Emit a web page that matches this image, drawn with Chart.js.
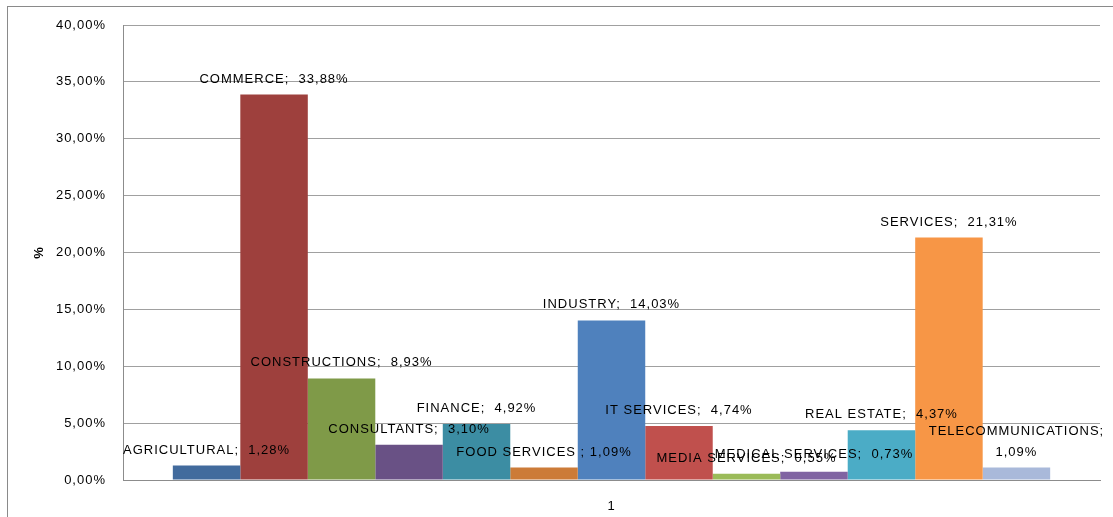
<!DOCTYPE html>
<html>
<head>
<meta charset="utf-8">
<script src="https://cdn.jsdelivr.net/npm/chart.js@4/dist/chart.umd.min.js"></script>
<style>
    html, body { margin: 0; padding: 0; background: #fff; overflow: hidden; }
    #frame {
        position: absolute; left: 7px; top: 6px; width: 1200px; height: 600px;
        border-left: 1px solid #8a8a8a; border-top: 1px solid #8a8a8a;
    }
    #wrap { position: absolute; left: 0; top: 0; width: 1113px; height: 517px; }
</style>
</head>
<body>
<div id="frame"></div>
<div id="wrap"><canvas id="sectors-chart" width="1113" height="517"></canvas></div>
<script>
// Chart data
const categories = ['1'];
const sectors = ['AGRICULTURAL', 'COMMERCE', 'CONSTRUCTIONS', 'CONSULTANTS', 'FINANCE', 'FOOD SERVICES ',
    'INDUSTRY', 'IT SERVICES', 'MEDIA SERVICES', 'MEDICAL SERVICES', 'REAL ESTATE', 'SERVICES', 'TELECOMMUNICATIONS'];
const shares = [1.28, 33.88, 8.93, 3.10, 4.92, 1.09, 14.03, 4.74, 0.55, 0.73, 4.37, 21.31, 1.09];
const yTicks = [0, 5, 10, 15, 20, 25, 30, 35, 40];

const colors = ['#426B9D', '#9E403D', '#7F9A48', '#695185', '#3C8DA3', '#CC7B38',
    '#4F81BD', '#C0504D', '#9BBB59', '#8064A2', '#4BACC6', '#F79646', '#A9B9DA'];

const FONT = 'Liberation Sans';

// Format a value like Excel (comma decimal)
function formatPercent(v) {
    return v.toFixed(2).replace('.', ',') + '%';
}

// Calibri-ish spacing
const spacingPlugin = {
    id: 'spacing',
    beforeInit(chart) { chart.ctx.letterSpacing = '1px'; },
    beforeLayout(chart) { chart.ctx.letterSpacing = '1px'; },
    beforeDraw(chart) { chart.ctx.letterSpacing = '1px'; }
};

// Data labels "NAME;  value%" above each bar
const labelNudge = { 'MEDICAL SERVICES': { dx: 0, dy: -2 } };
const barLabels = {
    id: 'barLabels',
    afterDatasetsDraw(chart) {
        const ctx = chart.ctx;
        ctx.save();
        ctx.letterSpacing = '1px';
        ctx.font = '13px "' + FONT + '"';
        ctx.fillStyle = '#000';
        ctx.textAlign = 'center';
        ctx.textBaseline = 'middle';
        chart.data.datasets.forEach((ds, i) => {
            const bar = chart.getDatasetMeta(i).data[0];
            const nudge = labelNudge[ds.label] || { dx: 0, dy: 0 };
            const x = bar.x + nudge.dx;
            const y = bar.y - 15.5 + nudge.dy;
            const sep = ds.label.endsWith(' ') ? '; ' : ';  ';
            const text = ds.label + sep + formatPercent(ds.data[0]);
            const w = ctx.measureText(text).width;
            if (x + w / 2 > chart.width) {
                ctx.fillText(ds.label + ';', x, y - 21);
                ctx.fillText(formatPercent(ds.data[0]), x, y);
            } else {
                ctx.fillText(text, x, y);
            }
        });
        ctx.restore();
    }
};

const ctx = document.getElementById('sectors-chart').getContext('2d');
new Chart(ctx, {
    type: 'bar',
    data: {
        labels: categories,
        datasets: sectors.map((name, i) => ({
            label: name,
            data: [shares[i]],
            backgroundColor: colors[i],
            borderWidth: 0
        }))
    },
    options: {
        responsive: false,
        animation: false,
        devicePixelRatio: 1,
        barPercentage: 1,
        categoryPercentage: 0.898,
        layout: { padding: { left: 28, top: 25, right: 13, bottom: 0 } },
        plugins: {
            legend: { display: false },
            tooltip: { enabled: false }
        },
        scales: {
            x: {
                grid: { display: false, drawTicks: false },
                border: { display: true, color: '#8c8c8c' },
                ticks: { color: '#000', padding: 19, font: { family: FONT, size: 13 } },
                afterFit(scale) { scale.height = 37; }
            },
            y: {
                min: 0,
                max: 40,
                afterBuildTicks(scale) { scale.ticks = yTicks.map(v => ({ value: v })); },
                ticks: {
                    color: '#000',
                    padding: 17,
                    font: { family: FONT, size: 13 },
                    callback: v => formatPercent(v)
                },
                grid: { color: '#a0a0a0', lineWidth: 1, drawTicks: false },
                border: { display: true, color: '#8c8c8c' },
                title: {
                    display: true,
                    text: '%',
                    color: '#000',
                    font: { family: FONT, size: 13, weight: 'bold' }
                },
                afterFit(scale) { scale.width = 95; }
            }
        }
    },
    plugins: [spacingPlugin, barLabels]
});
</script>
</body>
</html>
